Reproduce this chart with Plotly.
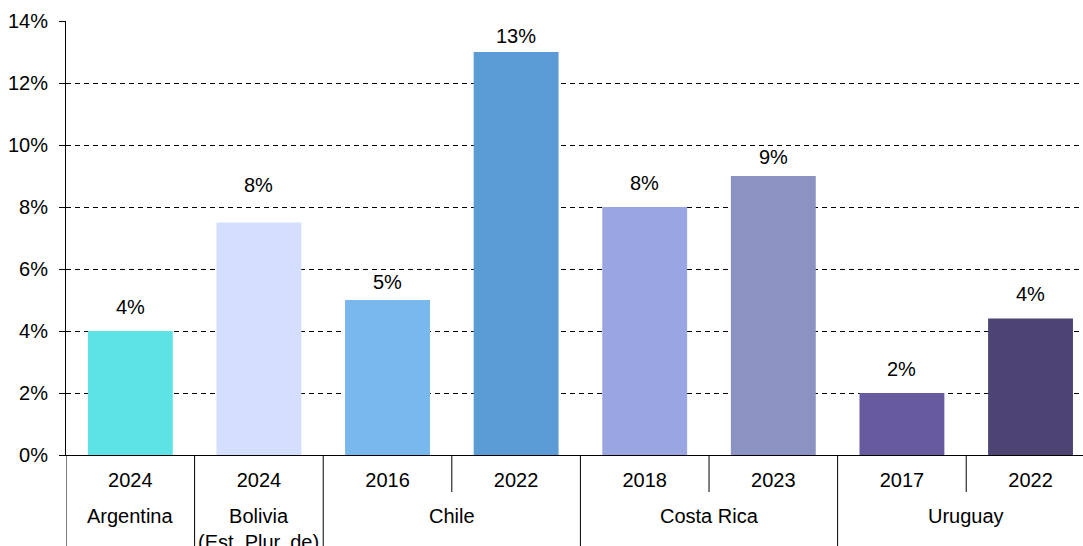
import plotly.graph_objects as go

# Data
countries = ["Argentina", "Bolivia<br>(Est. Plur. de)", "Chile", "Chile",
             "Costa Rica", "Costa Rica", "Uruguay", "Uruguay"]
years = ["2024", "2024", "2016", "2022", "2018", "2023", "2017", "2022"]
values = [4.0, 7.5, 5.0, 13.0, 8.0, 9.0, 2.0, 4.4]
colors = ["#5DE2E6", "#D3DFFC", "#78B8EC", "#5B9BD6",
          "#9AA6E2", "#8A93C2", "#685A9E", "#4D4473"]
y_ticks = [0, 2, 4, 6, 8, 10, 12, 14]

# pixel gap between each bar top and its value label baseline
label_gap = [15, 29, 9, 7, 15, 10, 15, 16]

FONT = "Liberation Sans, Arial, sans-serif"
FS = 20

cats = [f"{c}|{y}" for c, y in zip(countries, years)]

fig = go.Figure(go.Bar(
    x=cats, y=values,
    marker=dict(color=colors, line=dict(width=0)),
    width=0.66, hoverinfo="skip",
))

shapes = []
# separators below the axis: long between countries, short between years
n = len(cats)
for i in range(n + 1):
    b = i - 0.5
    if i == 0 or i == n or countries[i] != countries[i - 1]:
        y1 = -0.4
    else:
        y1 = -37 / 434
    shapes.append(dict(type="line", xref="x", yref="paper", x0=b, x1=b,
                       y0=0, y1=y1, line=dict(color="#000000", width=1)))

annotations = []
# value labels above each bar
for c, v, g in zip(cats, values, label_gap):
    annotations.append(dict(
        x=c, xref="x", y=v, yref="y", yanchor="bottom", yshift=g - 4,
        text=f"{v:.0f}%", showarrow=False,
        font=dict(family=FONT, size=FS, color="#000000")))

# country labels centred under each group
start = 0
for i in range(1, n + 1):
    if i == n or countries[i] != countries[start]:
        center = (start + i - 1) / 2
        annotations.append(dict(
            x=center, xref="x", y=-0.11, yref="paper", yanchor="top",
            text=countries[start], showarrow=False,
            font=dict(family=FONT, size=FS, color="#000000")))
        start = i

annotations.append(dict(
    x=(533 - 66) / 1017, xref="paper", y=1 + 19 / 434, yref="paper",
    yanchor="bottom", xanchor="center", text="(En porcentajes)",
    showarrow=False, font=dict(family=FONT, size=19.4, color="#000000")))

fig.update_layout(
    width=1083, height=546,
    margin=dict(l=66, r=0, t=21, b=91, pad=0),
    paper_bgcolor="#FFFFFF", plot_bgcolor="#FFFFFF",
    showlegend=False,
    font=dict(family=FONT, size=FS, color="#000000"),
    shapes=shapes, annotations=annotations,
    xaxis=dict(
        type="category", range=[-0.5, 7.408],
        tickvals=cats, ticktext=years, ticks="", ticklabelstandoff=7,
        showline=True, linecolor="#000000", linewidth=1,
        showgrid=False, tickfont=dict(family=FONT, size=FS, color="#000000"),
    ),
    yaxis=dict(
        range=[0, 14], tickvals=y_ticks,
        ticktext=[f"{v}%" for v in y_ticks],
        ticks="outside", ticklen=6, tickcolor="#000000", ticklabelstandoff=7,
        showline=True, linecolor="#000000", linewidth=1,
        showgrid=True, gridcolor="#000000", gridwidth=1, griddash="5px,4px",
        zeroline=False,
        tickfont=dict(family=FONT, size=FS, color="#000000"),
    ),
)

fig.write_html("out.html")
